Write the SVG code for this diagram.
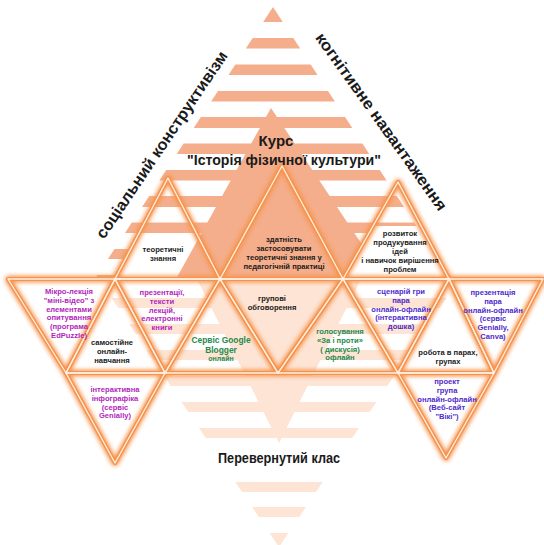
<svg xmlns="http://www.w3.org/2000/svg" xmlns:xlink="http://www.w3.org/1999/xlink" width="544" height="545" viewBox="0 0 544 545">
<style>
.t{font-family:"Liberation Sans",Arial,sans-serif;font-size:7.6px;font-weight:bold;text-anchor:middle}
.k{fill:#1b1b1b}
.m{fill:#b31fbd}
.v{fill:#4f2bcc}
.g{fill:#258a4c}
.big{font-family:"Liberation Sans",Arial,sans-serif;font-weight:bold;fill:#1a1a1a;text-anchor:middle}
.up{fill:#f4ae8c}
.lo{fill:#fde4d4}
.edge{fill:none;stroke:#f6944f;stroke-width:4.2;stroke-linejoin:round}
.inner{fill:none;stroke:#fff0e3;stroke-width:1.3;stroke-linejoin:round}
</style>
<defs>
<filter id="glow" filterUnits="userSpaceOnUse" x="0" y="0" width="544" height="545">
<feGaussianBlur in="SourceGraphic" stdDeviation="2.8" result="b"/>
<feMerge><feMergeNode in="b"/><feMergeNode in="b"/><feMergeNode in="SourceGraphic"/></feMerge>
</filter>
<polygon id="tri1" points="168,178 115,279 220,279"/>
<polygon id="tri2" points="282,166 220,279 343,279"/>
<polygon id="tri3" points="398,182 343,279 449,279"/>
<polygon id="tri4" points="8,279 115,279 66,373"/>
<polygon id="tri5" points="115,279 66,373 165,373"/>
<polygon id="tri6" points="115,279 220,279 165,373"/>
<polygon id="tri7" points="220,279 165,373 278,373"/>
<polygon id="tri8" points="220,279 343,279 278,373"/>
<polygon id="tri9" points="343,279 278,373 398,373"/>
<polygon id="tri10" points="343,279 449,279 398,373"/>
<polygon id="tri11" points="449,279 398,373 494,373"/>
<polygon id="tri12" points="449,279 543,279 494,373"/>
<polygon id="tri13" points="398,373 494,373 446,458"/>
<polygon id="tri14" points="66,373 165,373 115,463"/>
</defs>
<rect width="544" height="545" fill="#ffffff"/>

<!-- lower (inverted) striped triangle -->
<g id="lower-stripes" class="lo" transform="translate(279 0)">
<polygon points="-82,279 82,279 0,443"/>
<polygon points="-167.3,298 167.3,298 160.6,308 -160.6,308"/>
<polygon points="-149.9,324 149.9,324 143.1,334 -143.1,334"/>
<polygon points="-132.4,350 132.4,350 125.7,360 -125.7,360"/>
<polygon points="-114.9,376 114.9,376 108.2,386 -108.2,386"/>
<polygon points="-97.4,402 97.4,402 90.7,412 -90.7,412"/>
<polygon points="-80,428 80,428 73.2,438 -73.2,438"/>
<polygon points="-43.7,482 43.7,482 37,492 -37,492"/>
<polygon points="-26.9,507 26.9,507 20.2,517 -20.2,517"/>
<polygon points="-9.4,533 9.4,533 0,547"/>
</g>

<!-- upper striped triangle -->
<g id="upper-stripes" class="up" transform="translate(273 0)">
<polygon points="0,7 9.8,22 -9.8,22"/>
<polygon points="-20.3,38 20.3,38 27.2,48.5 -27.2,48.5"/>
<polygon points="-37.7,64.5 37.7,64.5 44.5,75 -44.5,75"/>
<polygon points="-55,91 55,91 61.9,101.5 -61.9,101.5"/>
<polygon points="-72.1,117 72.1,117 79.3,128 -79.3,128"/>
<polygon points="-89.4,143.5 89.4,143.5 96.3,154 -96.3,154"/>
<polygon points="-106.8,170 106.8,170 113.6,180.5 -113.6,180.5"/>
<polygon points="-123.8,196 123.8,196 131,207 -131,207"/>
<polygon points="-141.2,222.5 141.2,222.5 148,233 -148,233"/>
<polygon points="-158.5,249 158.5,249 165.1,259 -165.1,259"/>
<polygon points="-175.5,275 175.5,275 178.1,279 -178.1,279"/>
</g>
<polygon id="patch-left" points="137.6,236 197.9,236 220,279 115,279" fill="#ffffff"/>
<polygon id="upper-solid" class="up" points="271,108 385,279 176,279"/>
<polygon id="patch-right" points="373,226 421,226 449,279 343,279" fill="#ffffff"/>

<!-- triangle outlines -->
<g id="connectors">
<g id="outline-glow" class="edge" filter="url(#glow)">
<use xlink:href="#tri1"/><use xlink:href="#tri2"/><use xlink:href="#tri3"/><use xlink:href="#tri4"/><use xlink:href="#tri5"/><use xlink:href="#tri6"/><use xlink:href="#tri7"/><use xlink:href="#tri8"/><use xlink:href="#tri9"/><use xlink:href="#tri10"/><use xlink:href="#tri11"/><use xlink:href="#tri12"/><use xlink:href="#tri13"/><use xlink:href="#tri14"/>
</g>
<g id="outline-inner" class="inner">
<use xlink:href="#tri1"/><use xlink:href="#tri2"/><use xlink:href="#tri3"/><use xlink:href="#tri4"/><use xlink:href="#tri5"/><use xlink:href="#tri6"/><use xlink:href="#tri7"/><use xlink:href="#tri8"/><use xlink:href="#tri9"/><use xlink:href="#tri10"/><use xlink:href="#tri11"/><use xlink:href="#tri12"/><use xlink:href="#tri13"/><use xlink:href="#tri14"/>
</g>
</g>

<!-- titles -->
<g id="label-social"><text class="big" font-size="16" textLength="222" lengthAdjust="spacingAndGlyphs" transform="translate(162 145) rotate(-56)" y="5">соціальний конструктивізм</text></g>
<g id="label-cognitive"><text class="big" font-size="16" textLength="214" lengthAdjust="spacingAndGlyphs" transform="translate(381 122) rotate(54.5)" y="5">когнітивне навантаження</text></g>
<g id="course">
<text class="big" font-size="15" x="276" y="146">Курс</text>
<text class="big" font-size="14.5" x="284" y="165" textLength="194" lengthAdjust="spacingAndGlyphs">"Історія фізичної культури"</text>
</g>
<g id="flipped"><text class="big" font-size="14" x="279" y="463" textLength="122" lengthAdjust="spacingAndGlyphs">Перевернутий клас</text></g>

<!-- nodes -->
<g id="n-theory" class="t k"><text x="163" y="252">теоретичні</text><text x="163" y="261">знання</text></g>
<g id="n-apply" class="t k"><text x="284" y="242">здатність</text><text x="284" y="251">застосовувати</text><text x="284" y="260">теоретичні знання у</text><text x="284" y="269">педагогічній практиці</text></g>
<g id="n-develop" class="t k"><text x="400" y="236">розвиток</text><text x="400" y="245">продукування</text><text x="400" y="254">ідей</text><text x="400" y="263">і навичок вирішення</text><text x="400" y="272">проблем</text></g>
<g id="n-micro" class="t m"><text x="69" y="294">Мікро-лекція</text><text x="69" y="302.8">"міні-відео" з</text><text x="69" y="311.6">елементами</text><text x="69" y="320.4">опитування</text><text x="69" y="329.2">(програма</text><text x="69" y="338">EdPuzzle)</text></g>
<g id="n-self" class="t k"><text x="112" y="345">самостійне</text><text x="112" y="353.8">онлайн-</text><text x="112" y="362.6">навчання</text></g>
<g id="n-pres" class="t m"><text x="162" y="295">презентації,</text><text x="162" y="303.8">тексти</text><text x="162" y="312.6">лекцій,</text><text x="162" y="321.4">електронні</text><text x="162" y="330.2">книги</text></g>
<g id="n-blogger" class="t g"><text x="221" y="343" font-size="8.4">Сервіс Google</text><text x="221" y="352.5" font-size="8.4">Blogger</text><text x="221" y="361" font-size="7">онлайн</text></g>
<g id="n-group" class="t k"><text x="272" y="301">групові</text><text x="272" y="309.8">обговорення</text></g>
<g id="n-vote" class="t g"><text x="340" y="334">голосування</text><text x="340" y="342.8">«За і проти»</text><text x="340" y="351.6">( дискусія)</text><text x="340" y="360.4">офлайн</text></g>
<g id="n-scenario" class="t v"><text x="401" y="294">сценарій гри</text><text x="401" y="302.8">пара</text><text x="401" y="311.6">онлайн-офлайн</text><text x="401" y="320.4">(інтерактивна</text><text x="401" y="329.2">дошка)</text></g>
<g id="n-pairs" class="t k"><text x="448" y="355">робота в парах,</text><text x="448" y="364">групах</text></g>
<g id="n-prespair" class="t v"><text x="493" y="295">презентація</text><text x="493" y="303.8">пара</text><text x="493" y="312.6">онлайн-офлайн</text><text x="493" y="321.4">(сервіс</text><text x="493" y="330.2">Genially,</text><text x="493" y="339">Canva)</text></g>
<g id="n-project" class="t v"><text x="447" y="384">проект</text><text x="447" y="392.8">група</text><text x="447" y="401.6">онлайн-офлайн</text><text x="447" y="410.4">(Веб-сайт</text><text x="447" y="419.2">"Вікі")</text></g>
<g id="n-infographic" class="t m"><text x="115" y="392">інтерактивна</text><text x="115" y="400.8">інфографіка</text><text x="115" y="409.6">(сервіс</text><text x="115" y="418.4">Genially)</text></g>
</svg>
